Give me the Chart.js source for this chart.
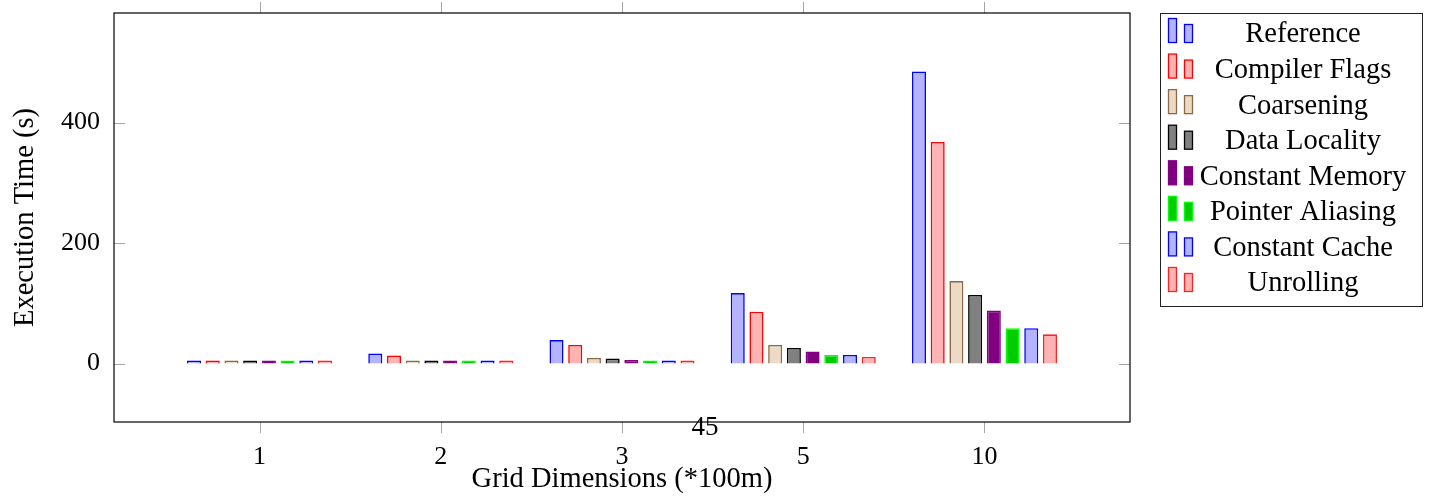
<!DOCTYPE html>
<html>
<head>
<meta charset="utf-8">
<title>Execution Time</title>
<script src="https://cdn.jsdelivr.net/npm/chart.js@4.4.1/dist/chart.umd.min.js"></script>
<style>
  body { margin: 0; background: #fff; }
  #wrap { width: 1434px; height: 497px; position: relative; }
</style>
</head>
<body>
<div id="wrap"><canvas id="timeChart"></canvas></div>
<script>
const gridSizes = ['1', '2', '3', '5', '10']
const yTicks = [0, 200, 400]

const reference = [4.5, 16.6, 39, 117, 485]
const compilerFlags = [4, 13.3, 31, 86, 368]
const coarsening = [2.5, 4.4, 9.4, 31, 137]
const dataLocality = [2.3, 4, 8.3, 26, 114]
const constantMemory = [2, 2.3, 6, 20, 88]
const pointerAliasing = [1, 1.6, 4.4, 14.4, 58.6]
const constantCache = [1.2, 1.6, 4.4, 14.4, 58.6]
const unrolling = [1, 1.5, 2.8, 11, 48.6]

const serif = "'Liberation Serif', 'Times New Roman', serif"

const series = [
  { label: 'Reference', values: reference, fill: '#b3b3ff', stroke: '#0000ff' },
  { label: 'Compiler Flags', values: compilerFlags, fill: '#ffb3b3', stroke: '#ff0000' },
  { label: 'Coarsening', values: coarsening, fill: '#ecd9c6', stroke: '#8c6a48' },
  { label: 'Data Locality', values: dataLocality, fill: '#808080', stroke: '#000000' },
  { label: 'Constant Memory', values: constantMemory, fill: '#800080', stroke: '#800080' },
  { label: 'Pointer Aliasing', values: pointerAliasing, fill: '#00cc00', stroke: '#00ff00' },
  { label: 'Constant Cache', values: constantCache, fill: '#b3b3ff', stroke: '#0000ff' },
  { label: 'Unrolling', values: unrolling, fill: '#ffb3b3', stroke: '#ff2020' }
]

// frame, tick marks, stray "45" and the two-bar legend
const decorations = {
  id: 'decorations',
  afterDraw(chart) {
    const ctx = chart.ctx
    const area = chart.chartArea
    const x = chart.scales.x
    const y = chart.scales.y
    ctx.save()
    ctx.strokeStyle = '#a6a6a6'
    ctx.lineWidth = 1
    ctx.beginPath()
    yTicks.forEach(v => {
      const py = Math.round(y.getPixelForValue(v)) + 0.5
      ctx.moveTo(area.left, py); ctx.lineTo(area.left + 11, py)
      ctx.moveTo(area.right - 11, py); ctx.lineTo(area.right, py)
    })
    gridSizes.forEach((s, i) => {
      const px = Math.round(x.getPixelForValue(i + 1)) + 0.5
      ctx.moveTo(px, area.top - 11); ctx.lineTo(px, area.top)
      ctx.moveTo(px, area.bottom); ctx.lineTo(px, area.bottom + 11)
    })
    ctx.stroke()

    ctx.strokeStyle = '#000'
    ctx.lineWidth = 1.2
    ctx.strokeRect(area.left, area.top, area.right - area.left, area.bottom - area.top)

    ctx.fillStyle = '#000'
    ctx.font = '27px ' + serif
    ctx.textAlign = 'center'
    ctx.textBaseline = 'middle'
    ctx.fillText('45', 705, 428)

    // legend box
    const lx = 1160.5, ly = 13.5, lw = 262, lh = 293
    ctx.fillStyle = '#fff'
    ctx.fillRect(lx, ly, lw, lh)
    ctx.strokeStyle = '#222'
    ctx.lineWidth = 1
    ctx.strokeRect(lx, ly, lw, lh)
    ctx.font = '28.5px ' + serif
    ctx.lineWidth = 1.3
    chart.data.datasets.forEach((ds, i) => {
      const cy = 34 + i * 35.57
      ctx.fillStyle = ds.backgroundColor
      ctx.strokeStyle = ds.borderColor
      ctx.fillRect(1168.5, cy - 15.5, 8, 24)
      ctx.strokeRect(1168.5, cy - 15.5, 8, 24)
      ctx.fillRect(1184.5, cy - 9.5, 8, 18)
      ctx.strokeRect(1184.5, cy - 9.5, 8, 18)
      ctx.fillStyle = '#000'
      ctx.fillText(ds.label, 1303, cy + 1)
    })
    ctx.restore()
  }
}

const ctx = document.getElementById('timeChart')
new Chart(ctx, {
  type: 'bar',
  data: {
    datasets: series.map(s => ({
      label: s.label,
      data: s.values.map((v, i) => ({ x: i + 1, y: v })),
      backgroundColor: s.fill,
      borderColor: s.stroke,
      borderWidth: 1.6,
      minBarLength: 3,
      barPercentage: 0.75,
      categoryPercentage: 0.826
    }))
  },
  options: {
    responsive: true,
    maintainAspectRatio: false,
    animation: false,
    layout: { padding: { top: 13, right: 304, left: 0, bottom: 0 } },
    plugins: {
      legend: { display: false },
      tooltip: { enabled: false }
    },
    scales: {
      x: {
        type: 'linear',
        offset: false,
        min: 0.197,
        max: 5.803,
        grid: { display: false, drawTicks: false },
        border: { display: false },
        afterBuildTicks: scale => {
          scale.ticks = gridSizes.map((s, i) => ({ value: i + 1 }))
        },
        afterFit: scale => {
          scale.height = 75
          scale.paddingLeft = 0
          scale.paddingRight = 0
        },
        ticks: {
          autoSkip: false,
          maxRotation: 0,
          padding: 20,
          color: '#000',
          font: { family: serif, size: 26 },
          callback: value => gridSizes[value - 1]
        },
        title: {
          display: true,
          text: 'Grid Dimensions (*100m)',
          color: '#000',
          font: { family: serif, size: 28.5 },
          padding: { top: 0, bottom: 0 }
        }
      },
      y: {
        min: -97,
        max: 582,
        grid: { display: false, drawTicks: false },
        border: { display: false },
        afterBuildTicks: scale => {
          scale.ticks = yTicks.map(v => ({ value: v }))
        },
        afterFit: scale => {
          scale.width = 114
          scale.paddingTop = 0
          scale.paddingBottom = 0
        },
        ticks: {
          padding: 14,
          color: '#000',
          font: { family: serif, size: 26 }
        },
        title: {
          display: true,
          text: 'Execution Time (s)',
          color: '#000',
          font: { family: serif, size: 28.5 },
          padding: { top: 8, bottom: 0 }
        }
      }
    }
  },
  plugins: [decorations]
})
</script>
</body>
</html>
